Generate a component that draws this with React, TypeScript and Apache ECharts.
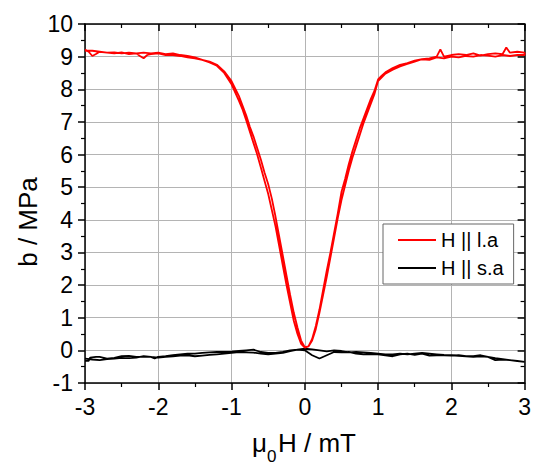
import React, { useEffect, useRef } from "react";
import * as echarts from "echarts";

// Red loop (H || l.a): sweep from -3 to +3, then back from +3 to -3
const laUpX = [-3.0, -2.95, -2.9, -2.85, -2.8, -2.7, -2.6, -2.5, -2.4, -2.3, -2.25, -2.2, -2.15, -2.1, -2.0, -1.9, -1.8, -1.7, -1.6, -1.5, -1.4, -1.3, -1.2, -1.1, -1.0, -0.9, -0.85, -0.8, -0.75, -0.7, -0.65, -0.6, -0.55, -0.5, -0.45, -0.4, -0.35, -0.3, -0.25, -0.2, -0.15, -0.1, -0.05, 0.0, 0.05, 0.1, 0.15, 0.2, 0.25, 0.3, 0.35, 0.4, 0.45, 0.5, 0.55, 0.6, 0.65, 0.7, 0.75, 0.8, 0.85, 0.9, 0.95, 1.0, 1.05, 1.1, 1.2, 1.3, 1.4, 1.5, 1.6, 1.7, 1.8, 1.85, 1.9, 2.0, 2.1, 2.2, 2.3, 2.4, 2.5, 2.6, 2.7, 2.75, 2.8, 2.9, 3.0];
const laUpY = [9.22, 9.15, 9.02, 9.08, 9.15, 9.12, 9.1, 9.13, 9.08, 9.1, 9.02, 8.95, 9.05, 9.08, 9.1, 9.05, 9.05, 9.02, 8.98, 8.95, 8.9, 8.82, 8.72, 8.5, 8.15, 7.65, 7.38, 7.05, 6.7, 6.35, 6.0, 5.6, 5.2, 4.8, 4.3, 3.8, 3.2, 2.6, 2.0, 1.45, 0.9, 0.5, 0.2, 0.08, 0.12, 0.35, 0.75, 1.25, 1.85, 2.45, 3.0, 3.6, 4.2, 4.85, 5.25, 5.7, 6.1, 6.45, 6.8, 7.1, 7.4, 7.7, 7.95, 8.3, 8.42, 8.52, 8.65, 8.75, 8.8, 8.88, 8.92, 8.95, 9.0, 9.22, 9.0, 9.05, 9.08, 9.05, 9.1, 9.03, 9.08, 9.1, 9.08, 9.28, 9.12, 9.15, 9.12];
const laDownX = [3.0, 2.9, 2.8, 2.7, 2.6, 2.5, 2.4, 2.3, 2.2, 2.1, 2.0, 1.9, 1.8, 1.7, 1.6, 1.5, 1.4, 1.3, 1.2, 1.1, 1.0, 0.95, 0.9, 0.85, 0.8, 0.75, 0.7, 0.65, 0.6, 0.55, 0.5, 0.45, 0.4, 0.35, 0.3, 0.25, 0.2, 0.15, 0.1, 0.05, 0.0, -0.05, -0.1, -0.15, -0.2, -0.25, -0.3, -0.35, -0.4, -0.45, -0.5, -0.55, -0.6, -0.65, -0.7, -0.75, -0.8, -0.85, -0.9, -1.0, -1.1, -1.2, -1.3, -1.4, -1.5, -1.6, -1.7, -1.8, -1.9, -2.0, -2.1, -2.2, -2.3, -2.4, -2.5, -2.6, -2.7, -2.8, -2.9, -3.0];
const laDownY = [9.05, 9.05, 9.02, 9.05, 9.0, 9.03, 9.05, 9.0, 9.02, 8.98, 9.0, 8.95, 8.98, 8.9, 8.92, 8.85, 8.78, 8.7, 8.6, 8.48, 8.25, 7.85, 7.55, 7.25, 6.95, 6.6, 6.25, 5.9, 5.5, 5.05, 4.6, 4.05, 3.45, 2.85, 2.25, 1.7, 1.15, 0.65, 0.3, 0.12, 0.1, 0.3, 0.7, 1.15, 1.7, 2.3, 2.9, 3.5, 4.1, 4.65, 5.1, 5.45, 5.85, 6.2, 6.55, 6.85, 7.2, 7.5, 7.8, 8.25, 8.55, 8.75, 8.85, 8.9, 8.98, 9.02, 9.05, 9.1, 9.08, 9.12, 9.1, 9.12, 9.1, 9.12, 9.1, 9.13, 9.12, 9.15, 9.18, 9.18];

// Black loop (H || s.a)
const saUpX = [-3.0, -2.95, -2.93, -2.85, -2.8, -2.7, -2.6, -2.5, -2.4, -2.3, -2.2, -2.1, -2.05, -2.0, -1.9, -1.8, -1.7, -1.6, -1.5, -1.4, -1.3, -1.2, -1.1, -1.0, -0.9, -0.8, -0.7, -0.6, -0.5, -0.4, -0.3, -0.2, -0.1, 0.0, 0.1, 0.2, 0.3, 0.4, 0.5, 0.6, 0.7, 0.8, 0.9, 1.0, 1.1, 1.2, 1.3, 1.4, 1.5, 1.6, 1.7, 1.8, 1.9, 2.0, 2.1, 2.2, 2.3, 2.4, 2.5, 2.6, 2.7, 2.8, 2.9, 3.0];
const saUpY = [-0.32, -0.32, -0.22, -0.2, -0.2, -0.25, -0.23, -0.18, -0.17, -0.2, -0.2, -0.2, -0.25, -0.2, -0.18, -0.15, -0.12, -0.1, -0.1, -0.08, -0.06, -0.05, -0.05, -0.04, -0.02, 0.0, 0.02, -0.05, -0.08, -0.08, -0.05, 0.0, 0.02, 0.0, -0.15, -0.25, -0.15, -0.05, -0.06, -0.05, -0.1, -0.12, -0.12, -0.12, -0.15, -0.18, -0.12, -0.1, -0.14, -0.1, -0.16, -0.15, -0.15, -0.16, -0.15, -0.18, -0.2, -0.18, -0.2, -0.3, -0.28, -0.3, -0.33, -0.35];
const saDownX = [3.0, 2.9, 2.8, 2.7, 2.6, 2.5, 2.4, 2.3, 2.2, 2.1, 2.0, 1.9, 1.8, 1.7, 1.6, 1.5, 1.4, 1.3, 1.2, 1.1, 1.0, 0.9, 0.8, 0.7, 0.6, 0.5, 0.4, 0.3, 0.2, 0.1, 0.0, -0.1, -0.2, -0.3, -0.4, -0.5, -0.6, -0.7, -0.8, -0.9, -1.0, -1.1, -1.2, -1.3, -1.4, -1.5, -1.6, -1.7, -1.8, -1.9, -2.0, -2.1, -2.2, -2.3, -2.4, -2.5, -2.6, -2.7, -2.8, -2.9, -3.0];
const saDownY = [-0.33, -0.32, -0.3, -0.27, -0.24, -0.2, -0.15, -0.18, -0.18, -0.17, -0.15, -0.14, -0.12, -0.1, -0.08, -0.1, -0.12, -0.1, -0.12, -0.12, -0.1, -0.08, -0.06, -0.05, -0.06, -0.02, 0.0, -0.03, 0.0, 0.03, 0.05, 0.02, -0.02, -0.08, -0.1, -0.12, -0.1, -0.07, -0.06, -0.05, -0.08, -0.1, -0.12, -0.14, -0.16, -0.18, -0.15, -0.16, -0.18, -0.2, -0.22, -0.2, -0.18, -0.22, -0.24, -0.23, -0.25, -0.27, -0.3, -0.28, -0.25];

const xTicks = { min: -3, max: 3, interval: 1 };
const yTicks = { min: -1, max: 10, interval: 1 };
const seriesNames = ["H || l.a", "H || s.a"];

const FONT = "Liberation Sans, Arial, sans-serif";

function pairs(xs: number[], ys: number[]) {
  return xs.map((x, i) => [x, ys[i]]);
}

export default function App() {
  const ref = useRef<HTMLDivElement>(null);
  useEffect(() => {
    if (!ref.current) return;
    const chart = echarts.init(ref.current, null, { renderer: "svg" });
    const axisLine = { show: true, onZero: false, lineStyle: { color: "#000", width: 1.5 } };
    const gridLine = { show: true, lineStyle: { color: "#b4b4b4", width: 1 } };
    const baseX = { type: "value", ...xTicks, axisLine };
    const baseY = { type: "value", ...yTicks, axisLine };
    chart.setOption({
      animation: false,
      backgroundColor: "#fff",
      grid: { left: 85, top: 24, right: 8, bottom: 91, containLabel: false },
      xAxis: [
        {
          ...baseX,
          position: "bottom",
          axisTick: { show: true, inside: false, length: 7, lineStyle: { color: "#000", width: 1.5 } },
          minorTick: { show: true, splitNumber: 2, length: 4, lineStyle: { color: "#000", width: 1.2 } },
          splitLine: gridLine,
          axisLabel: { fontSize: 23, color: "#000", fontFamily: FONT, margin: 12 },
        },
        {
          ...baseX,
          position: "top",
          axisTick: { show: true, inside: true, length: 7, lineStyle: { color: "#000", width: 1.5 } },
          minorTick: { show: true, splitNumber: 2, length: 4, lineStyle: { color: "#000", width: 1.2 } },
          splitLine: { show: false },
          axisLabel: { show: false },
        },
      ],
      yAxis: [
        {
          ...baseY,
          position: "left",
          axisTick: { show: true, inside: false, length: 7, lineStyle: { color: "#000", width: 1.5 } },
          minorTick: { show: true, splitNumber: 2, length: 4, lineStyle: { color: "#000", width: 1.2 } },
          splitLine: gridLine,
          axisLabel: { fontSize: 23, color: "#000", fontFamily: FONT, margin: 12 },
        },
        {
          ...baseY,
          position: "right",
          axisTick: { show: true, inside: true, length: 7, lineStyle: { color: "#000", width: 1.5 } },
          minorTick: { show: true, splitNumber: 2, length: 4, lineStyle: { color: "#000", width: 1.2 } },
          splitLine: { show: false },
          axisLabel: { show: false },
        },
      ],
      legend: {
        left: 383,
        top: 224,
        orient: "vertical",
        padding: [6, 10, 6, 15],
        itemGap: 8,
        itemWidth: 38,
        itemHeight: 2,
        icon: "rect",
        backgroundColor: "#fff",
        borderColor: "#666",
        borderWidth: 1,
        borderRadius: 0,
        textStyle: { fontSize: 20, color: "#000", fontFamily: FONT },
        data: seriesNames,
      },
      series: [
        {
          name: seriesNames[0],
          type: "line",
          showSymbol: false,
          symbol: "none",
          lineStyle: { color: "#ff0000", width: 1.8 },
          itemStyle: { color: "#ff0000" },
          data: [...pairs(laUpX, laUpY), ...pairs(laDownX, laDownY)],
          z: 3,
        },
        {
          name: seriesNames[1],
          type: "line",
          showSymbol: false,
          symbol: "none",
          lineStyle: { color: "#000", width: 1.8 },
          itemStyle: { color: "#000" },
          data: [...pairs(saUpX, saUpY), ...pairs(saDownX, saDownY)],
          z: 2,
        },
      ],
      graphic: [
        {
          type: "text",
          x: 28,
          y: 222,
          rotation: Math.PI / 2,
          style: { text: "b / MPa", fontSize: 26, fontFamily: FONT, fill: "#000", textAlign: "center", textVerticalAlign: "middle" },
        },
        {
          type: "text",
          x: 252,
          y: 443,
          style: { text: "μ", fontSize: 26, fontFamily: FONT, fill: "#000", textAlign: "left", textVerticalAlign: "middle" },
        },
        {
          type: "text",
          x: 267,
          y: 456,
          style: { text: "0", fontSize: 17, fontFamily: FONT, fill: "#000", textAlign: "left", textVerticalAlign: "middle" },
        },
        {
          type: "text",
          x: 278,
          y: 443,
          style: { text: "H / mT", fontSize: 26, fontFamily: FONT, fill: "#000", textAlign: "left", textVerticalAlign: "middle" },
        },
      ],
    });
    return () => chart.dispose();
  }, []);
  return <div ref={ref} style={{ width: 534, height: 474, position: "absolute", left: 0, top: 0 }} />;
}
